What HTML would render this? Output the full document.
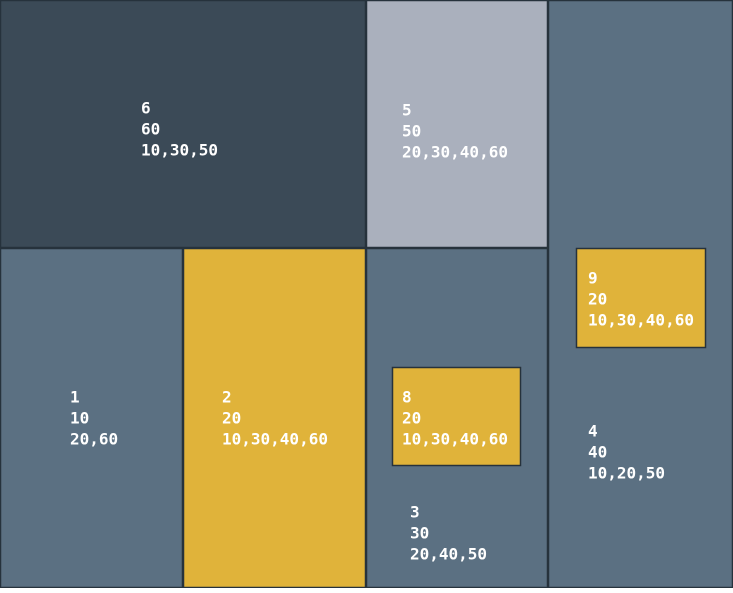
<!DOCTYPE html>
<html><head><meta charset="utf-8"><style>
html,body{margin:0;padding:0;background:#fff}
svg text{font-family:"DejaVu Sans Mono","Liberation Mono",monospace;font-size:16px;font-weight:bold;fill:#fff}
</style></head><body>
<svg id="tm" width="733" height="588"></svg>
<script>
const names=["6","5","1","2","3","8","4","9"];
const values=[60,50,10,20,30,20,40,20];
const links=["10,30,50","20,30,40,60","20,60","10,30,40,60","20,40,50","10,30,40,60","10,20,50","10,30,40,60"];
const fills=["#3b4a57","#aab0bd","#5b7082","#e0b33a","#5b7082","#e0b33a","#5b7082","#e0b33a"];
// layout geometry [x0,y0,x1,y1] and label anchor [x,y]
const geo=[[0,0,366,248],[366,0,548,248],[0,248,183,588],[183,248,366,588],[366,248,548,588],[392,367,521,466],[548,0,733,588],[576,248,706,348]];
const lab=[[141,108],[402,110],[70,397],[222,397],[410,512],[402,397],[588,431],[588,278]];
const svg=document.getElementById('tm');
const NS="http://www.w3.org/2000/svg";
const order=[0,1,2,3,4,6,5,7];
order.forEach(i=>{
  const g=geo[i];
  const r=document.createElementNS(NS,'rect');
  r.setAttribute('x',g[0]+0.5);r.setAttribute('y',g[1]+0.5);
  r.setAttribute('width',g[2]-g[0]-1);r.setAttribute('height',g[3]-g[1]-1);
  r.setAttribute('fill',fills[i]);r.setAttribute('stroke','#26323c');r.setAttribute('stroke-width','1.5');
  
  
  svg.appendChild(r);
});
order.forEach(i=>{
  const lines=[names[i],String(values[i]),links[i]];
  lines.forEach((s,k)=>{
    const t=document.createElementNS(NS,'text');
    t.setAttribute('x',lab[i][0]);t.setAttribute('y',lab[i][1]+k*21);
    t.setAttribute('dominant-baseline','central');
    t.textContent=s;
    
    
    svg.appendChild(t);
  });
});
</script>
</body></html>
